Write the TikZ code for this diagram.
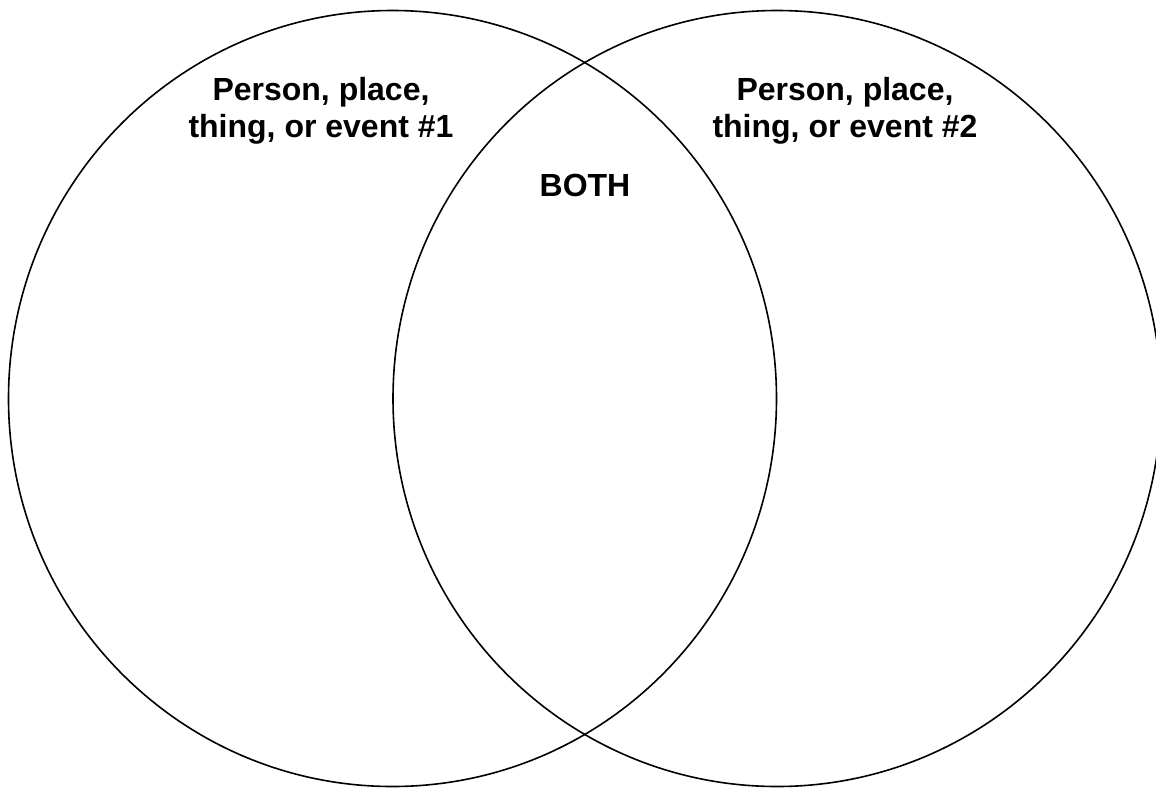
\documentclass[tikz,border=0pt]{standalone}
\usepackage{fontspec}
\setmainfont{Liberation Sans}
\usetikzlibrary{positioning}
\tikzset{
  set/.style={draw,line width=0.8pt},
  lbl/.style={font=\fontsize{16}{18.7}\selectfont\bfseries,align=center,inner sep=0pt},
}

\begin{document}
\begin{tikzpicture}[x=0.5pt,y=-0.5pt]
\useasboundingbox (0,0) rectangle (1156,788);
\clip (0,0) rectangle (1156,788);

\coordinate (cl) at (392.5,398.5);
\coordinate (cr) at (777,398.5);
\draw[set] (cl) ellipse [x radius=384,y radius=388];
\draw[set] (cr) ellipse [x radius=384,y radius=388];

\node[lbl] (first) at (321,110.5) {Person, place,\\thing, or event \#1};
\node[lbl] (second) at (845,110.5) {Person, place,\\thing, or event \#2};
\node[lbl,anchor=base] (both) at (585,196) {BOTH};
\end{tikzpicture}
\end{document}
